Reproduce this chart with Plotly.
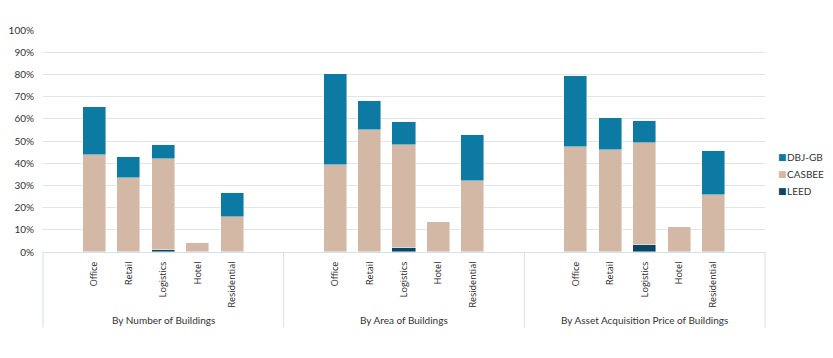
import plotly.graph_objects as go

groups = ["By Number of Buildings", "By Area of Buildings", "By Asset Acquisition Price of Buildings"]
categories = ["Office", "Retail", "Logistics", "Hotel", "Residential"]

# values in % per group, per category
leed = [
    [0, 0, 1.0, 0, 0],
    [0, 0, 2.0, 0, 0],
    [0, 0, 3.1, 0, 0],
]
casbee = [
    [43.7, 33.4, 40.9, 4.0, 15.9],
    [39.2, 54.8, 46.2, 13.3, 32.0],
    [47.4, 45.9, 46.0, 11.1, 25.5],
]
dbj = [
    [21.7, 9.6, 6.5, 0, 10.9],
    [41.2, 13.1, 10.5, 0, 20.7],
    [31.9, 14.4, 10.0, 0, 20.0],
]

y_ticks = [0, 10, 20, 30, 40, 50, 60, 70, 80, 90, 100]
y_tick_text = [f"{v}%" for v in y_ticks]

SLOTS = 7  # empty, 5 categories, empty
xs, texts, l_vals, c_vals, d_vals = [], [], [], [], []
for g in range(len(groups)):
    for i, cat in enumerate(categories):
        xs.append(g * SLOTS + 1 + i)
        texts.append(cat)
        l_vals.append(leed[g][i])
        c_vals.append(casbee[g][i])
        d_vals.append(dbj[g][i])

col_dbj = "#0C7AA2"
col_cas = "#D2B8A5"
col_leed = "#0B4762"
line = dict(color="rgba(255,255,255,0.55)", width=0.8)

fig = go.Figure()
series = [("LEED", l_vals, col_leed), ("CASBEE", c_vals, col_cas), ("DBJ-GB", d_vals, col_dbj)]
for name, vals, col in series:
    fig.add_bar(x=xs, y=vals, name=name, marker=dict(color=col, line=line), width=0.67,
                showlegend=False)

total = SLOTS * len(groups)
shapes = []
annotations = []
sep_color = "#D5E0EE"
for k in range(len(groups) + 1):
    px = k * SLOTS / total
    shapes.append(dict(type="line", xref="paper", yref="paper", x0=px, x1=px, y0=0, y1=-0.34,
                       line=dict(color=sep_color, width=1)))
for g, name in enumerate(groups):
    annotations.append(dict(text=name, xref="paper", yref="paper",
                            x=(g * SLOTS + SLOTS / 2) / total, y=-0.307,
                            showarrow=False, xanchor="center", yanchor="middle",
                            font=dict(family="Lato", size=10, color="#333333")))

# legend (top to bottom: DBJ-GB, CASBEE, LEED)
legend_rows = [("DBJ-GB", col_dbj), ("CASBEE", col_cas), ("LEED", col_leed)]
for j, (name, col) in enumerate(legend_rows):
    yy = 0.428 - j * 0.0765
    annotations.append(dict(
        text="■", xref="paper", yref="paper", x=1.0166, y=yy,
        showarrow=False, xanchor="left", yanchor="middle", borderpad=0,
        font=dict(family="DejaVu Sans", size=9, color=col)))
    annotations.append(dict(
        text=name, xref="paper", yref="paper", x=1.0295, y=yy,
        showarrow=False, xanchor="left", yanchor="middle", borderpad=0,
        font=dict(family="Lato", size=10, color="#333333")))

fig.update_layout(
    barmode="stack",
    width=817, height=342,
    margin=dict(l=35, r=60, t=22, b=98, autoexpand=False),
    plot_bgcolor="white", paper_bgcolor="white",
    bargap=0,
    showlegend=False,
    shapes=shapes,
    annotations=annotations,
)
fig.update_xaxes(range=[-0.5, total - 0.5], tickvals=xs, ticktext=texts, tickangle=-90,
                 showgrid=False, zeroline=False, showline=True, linecolor=sep_color, linewidth=1,
                 ticks="", ticklabelstandoff=5, automargin=False,
                 tickfont=dict(family="Open Sans", size=9, color="#262626"))
fig.update_yaxes(range=[0, 100], tickvals=y_ticks, ticktext=y_tick_text,
                 showgrid=True, gridcolor="#DCE5F1", gridwidth=1, zeroline=False,
                 showline=False, ticks="", ticklabelstandoff=8, automargin=False,
                 tickfont=dict(family="Lato", size=10, color="#333333"))

fig.write_html("out.html")
